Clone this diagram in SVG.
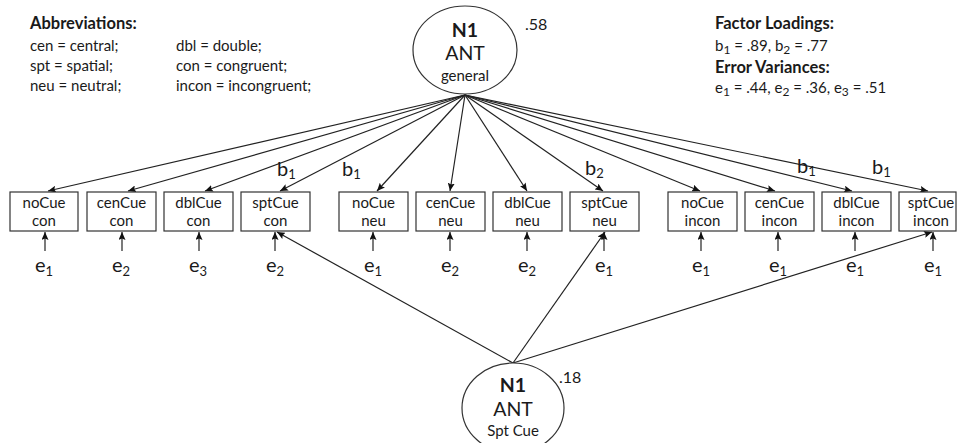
<svg xmlns="http://www.w3.org/2000/svg" width="958" height="443" viewBox="0 0 958 443">
  <style>
    text { font-family: Lato, "Open Sans", "Liberation Sans", sans-serif; fill: #1a1a1a; }
    .hdr { font-size: 16.5px; font-weight: bold; }
    .note { font-size: 15px; }
    .nsub { font-size: 12px; }
    .box { fill: #fff; stroke: #333; stroke-width: 1.2; }
    .lbl { font-size: 15px; text-anchor: middle; }
    .ell { fill: #fff; stroke: #333; stroke-width: 1.2; }
    .big { font-size: 19.5px; text-anchor: middle; }
    .bold { font-weight: bold; }
    .small { font-size: 15px; text-anchor: middle; }
    .sym { font-size: 20px; }
    .sub { font-size: 13px; }
    .num { font-size: 16px; }
    .conn line { stroke: #222; stroke-width: 1.2; marker-end: url(#arrow); }
  </style>
  <defs>
    <marker id="arrow" markerUnits="userSpaceOnUse" markerWidth="9" markerHeight="7" refX="8" refY="3.5" orient="auto">
      <path d="M0,0 L8,3.5 L0,7 L1.5,3.5 z" fill="#111"/>
    </marker>
  </defs>

  <rect width="958" height="443" fill="#fff"/>

  <!-- legend: abbreviations -->
  <g id="abbreviations">
    <text class="hdr" x="30" y="29">Abbreviations:</text>
    <text class="note" x="30" y="51">cen = central;</text>
    <text class="note" x="30" y="71">spt = spatial;</text>
    <text class="note" x="30" y="91">neu = neutral;</text>
    <text class="note" x="176" y="51">dbl = double;</text>
    <text class="note" x="176" y="71">con = congruent;</text>
    <text class="note" x="176" y="91">incon = incongruent;</text>
  </g>

  <!-- legend: estimates -->
  <g id="estimates">
    <text class="hdr" x="715" y="29">Factor Loadings:</text>
    <text class="note" x="715" y="51">b<tspan class="nsub" dy="3">1</tspan><tspan dy="-3"> = .89, b</tspan><tspan class="nsub" dy="3">2</tspan><tspan dy="-3"> = .77</tspan></text>
    <text class="hdr" x="715" y="73">Error Variances:</text>
    <text class="note" x="715" y="93">e<tspan class="nsub" dy="3">1</tspan><tspan dy="-3"> = .44, e</tspan><tspan class="nsub" dy="3">2</tspan><tspan dy="-3"> = .36, e</tspan><tspan class="nsub" dy="3">3</tspan><tspan dy="-3"> = .51</tspan></text>
  </g>

  <!-- connectors -->
  <g id="connectors" class="conn">
    <!-- general factor loadings -->
    <line x1="465" y1="95" x2="48" y2="191"/>
    <line x1="465" y1="95" x2="128" y2="191"/>
    <line x1="465" y1="95" x2="205" y2="191"/>
    <line x1="465" y1="95" x2="280" y2="191"/>
    <line x1="465" y1="95" x2="377" y2="191"/>
    <line x1="465" y1="95" x2="450" y2="191"/>
    <line x1="465" y1="95" x2="527" y2="191"/>
    <line x1="465" y1="95" x2="603" y2="191"/>
    <line x1="465" y1="95" x2="700" y2="191"/>
    <line x1="465" y1="95" x2="775" y2="191"/>
    <line x1="465" y1="95" x2="852" y2="191"/>
    <line x1="465" y1="95" x2="928" y2="191"/>
    <!-- spatial cue factor loadings -->
    <line x1="513" y1="363" x2="277" y2="232"/>
    <line x1="513" y1="363" x2="605" y2="232"/>
    <line x1="513" y1="363" x2="932" y2="232"/>
    <!-- error terms -->
    <line x1="45" y1="251" x2="45" y2="232"/>
    <line x1="122" y1="251" x2="122" y2="232"/>
    <line x1="199" y1="251" x2="199" y2="232"/>
    <line x1="275" y1="251" x2="275" y2="232"/>
    <line x1="373" y1="251" x2="373" y2="232"/>
    <line x1="450" y1="251" x2="450" y2="232"/>
    <line x1="527" y1="251" x2="527" y2="232"/>
    <line x1="604" y1="251" x2="604" y2="232"/>
    <line x1="701" y1="251" x2="701" y2="232"/>
    <line x1="778" y1="251" x2="778" y2="232"/>
    <line x1="855" y1="251" x2="855" y2="232"/>
    <line x1="933" y1="251" x2="933" y2="232"/>
  </g>

  <!-- loading labels -->
  <g id="loading-labels" class="sym">
    <text x="277" y="176">b<tspan class="sub" dy="3">1</tspan></text>
    <text x="342" y="176">b<tspan class="sub" dy="3">1</tspan></text>
    <text x="585" y="175">b<tspan class="sub" dy="3">2</tspan></text>
    <text x="797" y="173">b<tspan class="sub" dy="3">1</tspan></text>
    <text x="872" y="174">b<tspan class="sub" dy="3">1</tspan></text>
  </g>

  <!-- latent factors -->
  <g id="factor-general">
    <ellipse class="ell" cx="465" cy="50" rx="52" ry="44"/>
    <text class="big bold" x="465" y="37">N1</text>
    <text class="big" x="465" y="60">ANT</text>
    <text class="small" x="465" y="81">general</text>
    <text class="num" x="525" y="30">.58</text>
  </g>
  <g id="factor-spatial">
    <ellipse class="ell" cx="513" cy="408" rx="51" ry="45"/>
    <text class="big bold" x="513" y="392">N1</text>
    <text class="big" x="513" y="416">ANT</text>
    <text class="small" x="513" y="436">Spt Cue</text>
    <text class="num" x="559" y="383">.18</text>
  </g>

  <!-- observed indicators -->
  <g id="noCue-con"><rect class="box" x="10" y="192" width="68" height="39"/><text class="lbl" x="44" y="208">noCue</text><text class="lbl" x="44" y="226">con</text></g>
  <g id="cenCue-con"><rect class="box" x="87" y="192" width="69" height="39"/><text class="lbl" x="121.5" y="208">cenCue</text><text class="lbl" x="121.5" y="226">con</text></g>
  <g id="dblCue-con"><rect class="box" x="164" y="192" width="69" height="39"/><text class="lbl" x="198.5" y="208">dblCue</text><text class="lbl" x="198.5" y="226">con</text></g>
  <g id="sptCue-con"><rect class="box" x="241" y="192" width="69" height="39"/><text class="lbl" x="275.5" y="208">sptCue</text><text class="lbl" x="275.5" y="226">con</text></g>
  <g id="noCue-neu"><rect class="box" x="339" y="192" width="69" height="39"/><text class="lbl" x="373.5" y="208">noCue</text><text class="lbl" x="373.5" y="226">neu</text></g>
  <g id="cenCue-neu"><rect class="box" x="416" y="192" width="69" height="39"/><text class="lbl" x="450.5" y="208">cenCue</text><text class="lbl" x="450.5" y="226">neu</text></g>
  <g id="dblCue-neu"><rect class="box" x="493" y="192" width="69" height="39"/><text class="lbl" x="527.5" y="208">dblCue</text><text class="lbl" x="527.5" y="226">neu</text></g>
  <g id="sptCue-neu"><rect class="box" x="570" y="192" width="69" height="39"/><text class="lbl" x="604.5" y="208">sptCue</text><text class="lbl" x="604.5" y="226">neu</text></g>
  <g id="noCue-incon"><rect class="box" x="668" y="192" width="69" height="39"/><text class="lbl" x="702.5" y="208">noCue</text><text class="lbl" x="702.5" y="226">incon</text></g>
  <g id="cenCue-incon"><rect class="box" x="745" y="192" width="69" height="39"/><text class="lbl" x="779.5" y="208">cenCue</text><text class="lbl" x="779.5" y="226">incon</text></g>
  <g id="dblCue-incon"><rect class="box" x="822" y="192" width="69" height="39"/><text class="lbl" x="856.5" y="208">dblCue</text><text class="lbl" x="856.5" y="226">incon</text></g>
  <g id="sptCue-incon"><rect class="box" x="899" y="192" width="57" height="39"/><text class="lbl" x="931" y="208">sptCue</text><text class="lbl" x="931" y="226">incon</text></g>

  <!-- error terms -->
  <g id="errors" class="sym" text-anchor="middle">
    <text x="44" y="272">e<tspan class="sub" dy="4">1</tspan></text>
    <text x="121" y="272">e<tspan class="sub" dy="4">2</tspan></text>
    <text x="198" y="272">e<tspan class="sub" dy="4">3</tspan></text>
    <text x="275" y="272">e<tspan class="sub" dy="4">2</tspan></text>
    <text x="373" y="272">e<tspan class="sub" dy="4">1</tspan></text>
    <text x="450" y="272">e<tspan class="sub" dy="4">2</tspan></text>
    <text x="527" y="272">e<tspan class="sub" dy="4">2</tspan></text>
    <text x="604" y="272">e<tspan class="sub" dy="4">1</tspan></text>
    <text x="701" y="272">e<tspan class="sub" dy="4">1</tspan></text>
    <text x="778" y="272">e<tspan class="sub" dy="4">1</tspan></text>
    <text x="855" y="272">e<tspan class="sub" dy="4">1</tspan></text>
    <text x="933" y="272">e<tspan class="sub" dy="4">1</tspan></text>
  </g>
</svg>
